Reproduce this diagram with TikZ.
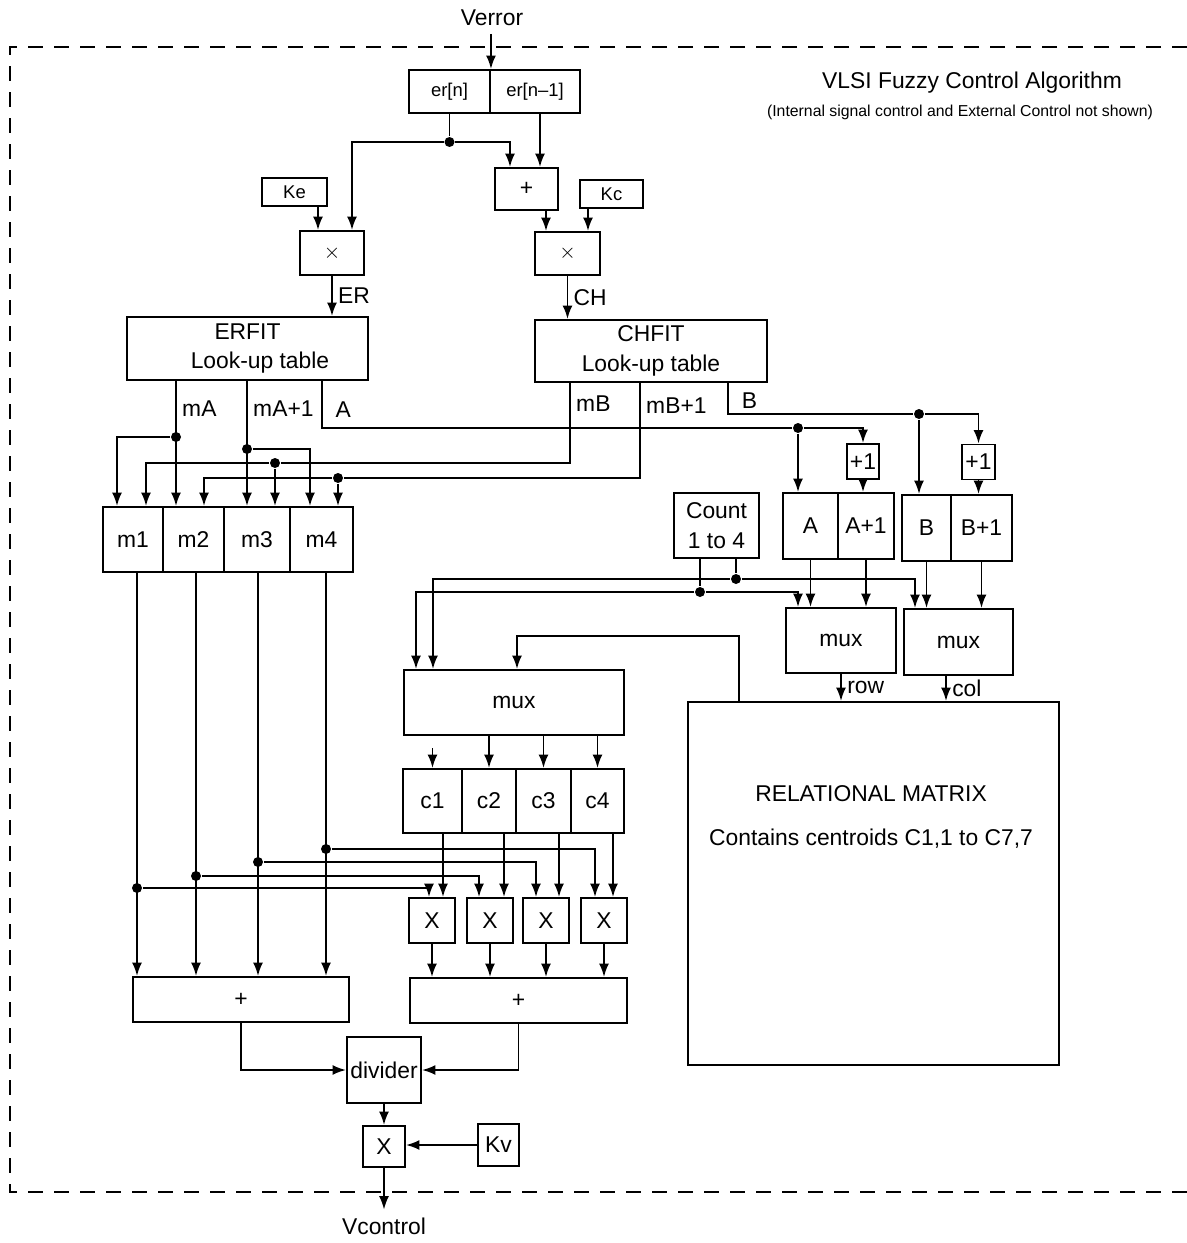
\documentclass[tikz,border=0pt]{standalone}
\usepackage{fontspec}
\setmainfont{Liberation Sans}
\usetikzlibrary{arrows.meta}

\begin{document}
\begin{tikzpicture}[x=0.2mm, y=-0.2mm, line width=1.1pt,
  every node/.style={font=\fontsize{13}{17}\selectfont, inner sep=0pt},
  blk/.style={draw, align=center},
  bsize/.style 2 args={minimum width=#1mm, minimum height=#2mm},
  sml/.style={font=\fontsize{10.5}{12}\selectfont},
  arr/.style={-{Latex[length=2.7mm, width=2mm]}},
  dot/.style={circle, fill, minimum size=2mm},
  lbl/.style={anchor=west, inner sep=3pt},
  io/.style={inner sep=4pt}]
\useasboundingbox (0,0) rectangle (1187,1243);
\draw[dash pattern=on 3mm off 2.2mm] (1187,47) -- (10,47) -- (10,1192) -- (1187,1192);

\node (title) at (972,83) {VLSI Fuzzy Control Algorithm};
\node[font=\fontsize{9}{11}\selectfont] (note) at (960,112) {(Internal signal control and External Control not shown)};

\node[io] (verr) at (492,18) {Verror};
\node[blk, sml, bsize={16.2}{8.6}] (ern) at (449.5,91.5) {er[n]};
\node[blk, sml, bsize={18}{8.6}] (ern1) at (535,91.5) {er[n--1]};
\node[blk, sml, bsize={13}{5.6}] (Ke) at (294.5,192) {Ke};
\node[blk, bsize={12.6}{8.4}] (add) at (526.5,189) {+};
\node[blk, sml, bsize={12.6}{5.6}] (Kc) at (611.5,194) {Kc};
\node[blk, bsize={12.8}{8.8}] (mulE) at (332,253) {$\times$};
\node[blk, bsize={13}{8.6}] (mulC) at (567.5,253.5) {$\times$};
\node[blk, bsize={48.2}{12.6}] (erfit) at (247.5,348.5) {ERFIT\\\hspace*{5mm}Look-up table};
\node[blk, bsize={46.4}{12.4}] (chfit) at (651,351) {CHFIT\\Look-up table};
\node[blk, bsize={12}{13}] (m1) at (133,539.5) {m1};
\node[blk, bsize={12.2}{13}] (m2) at (193.5,539.5) {m2};
\node[blk, bsize={13.2}{13}] (m3) at (257,539.5) {m3};
\node[blk, bsize={12.6}{13}] (m4) at (321.5,539.5) {m4};
\node[blk, bsize={6.4}{7}] (incA) at (863,461.5) {+1};
\node[blk, bsize={6.6}{7}] (incB) at (978.5,462) {+1};
\node[blk, bsize={11}{13.2}] (regA) at (810.5,526) {A};
\node[blk, bsize={11.2}{13.2}] (regA1) at (866,526) {A+1};
\node[blk, bsize={9.8}{13.2}] (regB) at (926.5,528) {B};
\node[blk, bsize={12.2}{13.2}] (regB1) at (981.5,528) {B+1};
\node[blk, bsize={17}{13}] (count) at (716.5,525.5) {Count\\1 to 4};
\node[blk, bsize={22}{13}] (muxR) at (841,640.5) {mux};
\node[blk, bsize={21.8}{13.2}] (muxC) at (958.5,642) {mux};
\node[blk, bsize={74.2}{72.6}] (relm) at (873.5,883.5) {};
\node[font=\fontsize{13}{25}\selectfont, align=center] (relmtxt) at (871,817) {RELATIONAL MATRIX\\Contains centroids C1,1 to C7,7};
\node[blk, bsize={44}{13}] (mux) at (514,702.5) {mux};
\node[blk, bsize={11.8}{12.8}] (c1) at (432.5,801) {c1};
\node[blk, bsize={10.8}{12.8}] (c2) at (489,801) {c2};
\node[blk, bsize={11}{12.8}] (c3) at (543.5,801) {c3};
\node[blk, bsize={10.6}{12.8}] (c4) at (597.5,801) {c4};
\node[blk, bsize={9.2}{9}] (X1) at (432,920.5) {X};
\node[blk, bsize={9.2}{9}] (X2) at (490,920.5) {X};
\node[blk, bsize={9.2}{9}] (X3) at (546,920.5) {X};
\node[blk, bsize={9.2}{9}] (X4) at (604,920.5) {X};
\node[blk, bsize={43.2}{9}] (sumM) at (241,999.5) {+};
\node[blk, bsize={43.4}{9}] (sumC) at (518.5,1000.5) {+};
\node[blk, bsize={14.8}{13.2}] (div) at (384,1070) {divider};
\node[blk, bsize={8.4}{8.2}] (mulV) at (384,1146.5) {X};
\node[blk, bsize={8.2}{8.4}] (Kv) at (498.5,1145) {Kv};
\node[io] (vctl) at (384,1226) {Vcontrol};

\node[dot] (jE) at (449.5,142) {};
\node[dot] (dA) at (176,437) {};
\node[dot] (dA1) at (247,449) {};
\node[dot] (dB) at (275,463) {};
\node[dot] (dB1) at (338,478) {};
\node[dot] (dRA) at (798,428) {};
\node[dot] (dRB) at (919,414) {};
\node[dot] (dCL) at (700,592) {};
\node[dot] (dCR) at (736,579) {};
\node[dot] (dm1) at (137,888) {};
\node[dot] (dm2) at (196,876) {};
\node[dot] (dm3) at (258,862) {};
\node[dot] (dm4) at (326,849) {};

\draw[arr] (verr.south -| ern.east) -- (ern.north east);
\draw (ern.south) -- (jE);
\draw[arr] (jE) -| ([xshift=4mm]mulE.north);
\draw[arr] (jE) -| ([xshift=-3.3mm]add.north);
\draw[arr] ([xshift=1mm]ern1.south) -- ([xshift=1mm]ern1.south |- add.north);
\draw[arr] ([xshift=4.7mm]Ke.south) -- ([xshift=4.7mm]Ke.south |- mulE.north);
\draw[arr] ([xshift=3.9mm]add.south) -- ([xshift=3.9mm]add.south |- mulC.north);
\draw[arr] ([xshift=-4.7mm]Kc.south) -- ([xshift=-4.7mm]Kc.south |- mulC.north);
\draw[arr] (mulE.south) -- (mulE.south |- erfit.north) node[midway, lbl] {ER};
\draw[arr] (mulC.south) -- (mulC.south |- chfit.north) node[midway, lbl] {CH};

\draw[arr] (erfit.south -| dA) -- (dA |- m2.north) node[pos=0.22, lbl] {mA};
\draw[arr] (dA) -| ([xshift=-3.2mm]m1.north);
\draw[arr] (erfit.south -| dA1) -- (dA1 |- m3.north) node[pos=0.22, lbl] {mA+1};
\draw[arr] (dA1) -| ([xshift=-2.3mm]m4.north);
\draw ([xshift=14.9mm]erfit.south) |- node[pos=0.3, lbl, xshift=1.5mm] {A} (dRA);
\draw[arr] (dRA) -- (dRA |- regA.north);
\draw[arr] (dRA) -| (incA.north);
\draw[arr] (incA.south) -- (incA.south |- regA1.north);
\draw[arr] ([xshift=-16.2mm]chfit.south) |- node[pos=0.13, lbl] {mB} (dB) -| ([xshift=2.6mm]m1.north);
\draw[arr] (dB) -- (dB |- m3.north);
\draw[arr] ([xshift=-2.2mm]chfit.south) |- node[pos=0.12, lbl] {mB+1} (dB1) -| ([xshift=2.1mm]m2.north);
\draw[arr] (dB1) -- (dB1 |- m4.north);
\draw ([xshift=15.4mm]chfit.south) |- node[pos=0.28, lbl, xshift=1.5mm] {B} (dRB);
\draw[arr] (dRB) -- (dRB |- regB.north);
\draw[arr] (dRB) -| (incB.north);
\draw[arr] (incB.south) -- (incB.south |- regB1.north);

\draw (count.south -| dCL) -- (dCL);
\draw (count.south -| dCR) -- (dCR);
\draw[arr] (dCL) -| ([xshift=-19.6mm]mux.north);
\draw[arr] (dCR) -| ([xshift=-16.2mm]mux.north);
\draw[arr] (dCL) -| ([xshift=-8.6mm]muxR.north);
\draw[arr] (dCR) -| ([xshift=-8.7mm]muxC.north);
\draw[arr] (regA.south) -- (regA.south |- muxR.north);
\draw[arr] (regA1.south) -- (regA1.south |- muxR.north);
\draw[arr] (regB.south) -- (regB.south |- muxC.north);
\draw[arr] (regB1.south) -- (regB1.south |- muxC.north);
\draw[arr] (muxR.south) -- (muxR.south |- relm.north) node[midway, lbl] {row};
\draw[arr] ([xshift=-2.5mm]muxC.south) -- ([xshift=-2.5mm]muxC.south |- relm.north) node[midway, lbl] {col};
\draw[arr] ([xshift=-26.9mm]relm.north) -- ++(0,-65) -| ([xshift=0.6mm]mux.north);

\draw[arr] ([yshift=4mm]c1.north) -- (c1.north);
\draw[arr] (mux.south -| c2.north) -- (c2.north);
\draw[arr] (mux.south -| c3.north) -- (c3.north);
\draw[arr] (mux.south -| c4.north) -- (c4.north);
\draw[arr] ([xshift=2.1mm]c1.south) -- ([xshift=2.1mm]c1.south |- X1.north);
\draw[arr] ([xshift=3mm]c2.south) -- ([xshift=3mm]c2.south |- X2.north);
\draw[arr] ([xshift=3.1mm]c3.south) -- ([xshift=3.1mm]c3.south |- X3.north);
\draw[arr] ([xshift=3.1mm]c4.south) -- ([xshift=3.1mm]c4.south |- X4.north);

\draw[arr] (m1.south -| dm1) -- (dm1 |- sumM.north);
\draw[arr] (m2.south -| dm2) -- (dm2 |- sumM.north);
\draw[arr] (m3.south -| dm3) -- (dm3 |- sumM.north);
\draw[arr] (m4.south -| dm4) -- (dm4 |- sumM.north);
\draw[arr] (dm1) -| ([xshift=-0.6mm]X1.north);
\draw[arr] (dm2) -| ([xshift=-2.2mm]X2.north);
\draw[arr] (dm3) -| ([xshift=-2mm]X3.north);
\draw[arr] (dm4) -| ([xshift=-1.8mm]X4.north);
\draw[arr] (X1.south) -- (X1.south |- sumC.north);
\draw[arr] (X2.south) -- (X2.south |- sumC.north);
\draw[arr] (X3.south) -- (X3.south |- sumC.north);
\draw[arr] (X4.south) -- (X4.south |- sumC.north);

\draw[arr] (sumM.south) |- (div.west);
\draw[arr] (sumC.south) |- (div.east);
\draw[arr] (div.south) -- (mulV.north);
\draw[arr] (Kv.west) -- (Kv.west -| mulV.east);
\draw[arr] (mulV.south) -- (vctl.north);
\end{tikzpicture}
\end{document}
